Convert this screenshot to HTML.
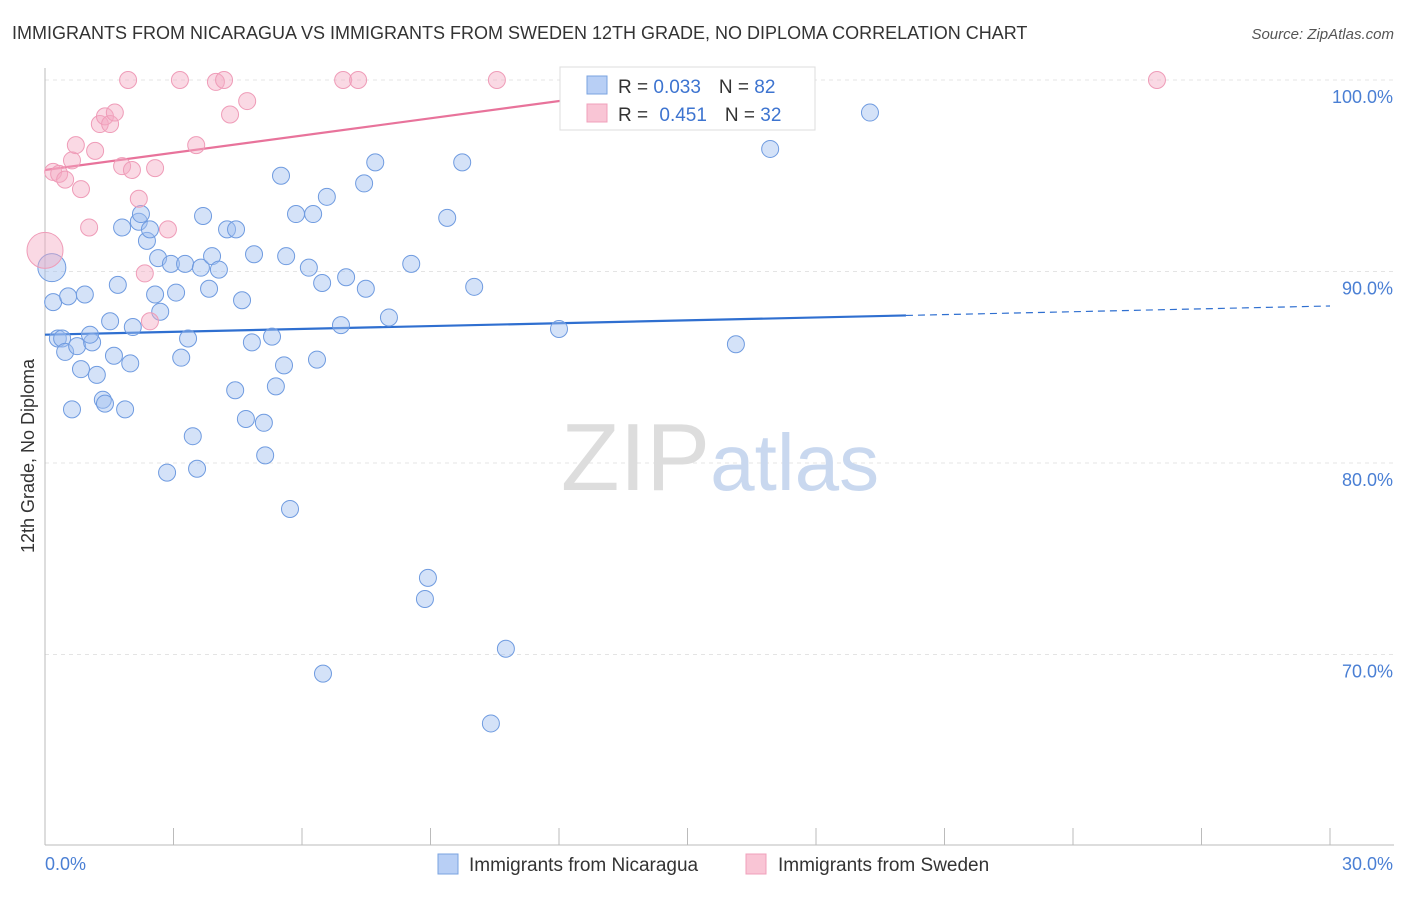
<!DOCTYPE html>
<html><head><meta charset="utf-8"><style>
body{margin:0;background:#fff;font-family:"Liberation Sans",sans-serif;}
svg text{font-family:"Liberation Sans",sans-serif;}
</style></head><body>
<svg id="chart" width="1406" height="892" xmlns="http://www.w3.org/2000/svg">
<text x="12" y="39" font-size="18" fill="#333">IMMIGRANTS FROM NICARAGUA VS IMMIGRANTS FROM SWEDEN 12TH GRADE, NO DIPLOMA CORRELATION CHART</text>
<text x="1394" y="39" font-size="15" fill="#555" text-anchor="end" font-style="italic">Source: ZipAtlas.com</text>
<g id="grid"></g>
<text x="720" y="490" font-size="96" text-anchor="middle" fill="#ddd" font-family="Liberation Serif">ZIP<tspan fill="#c9d8ef" font-family="Liberation Sans" font-size="80">atlas</tspan></text>
<g id="lines"></g>
<g id="points"></g>
<text transform="translate(34,456) rotate(-90)" font-size="18" fill="#333" text-anchor="middle">12th Grade, No Diploma</text>
<text x="45" y="870" font-size="18" fill="#4a7fd4">0.0%</text>
<text x="1393" y="870" font-size="18" fill="#4a7fd4" text-anchor="end">30.0%</text>
<g>
<rect x="560" y="67" width="255" height="63" fill="#fff" stroke="#ddd"/>
<rect x="587" y="76" width="20" height="18" fill="#b8cff5" stroke="#7aa3e0"/>
<rect x="587" y="104" width="20" height="18" fill="#f9c5d5" stroke="#f0a0bb"/>
<text x="618" y="93" font-size="19" fill="#333">R = <tspan fill="#3d74d0">0.033</tspan><tspan dx="18">N = </tspan><tspan fill="#3d74d0">82</tspan></text>
<text x="618" y="121" font-size="19" fill="#333">R = <tspan dx="6" fill="#3d74d0">0.451</tspan><tspan dx="18">N = </tspan><tspan fill="#3d74d0">32</tspan></text>
</g>
<g>
<rect x="438" y="854" width="20" height="20" fill="#b8cff5" stroke="#7aa3e0"/>
<text x="469" y="871" font-size="19" fill="#333">Immigrants from Nicaragua</text>
<rect x="746" y="854" width="20" height="20" fill="#f9c5d5" stroke="#f0a0bb"/>
<text x="778" y="871" font-size="19" fill="#333">Immigrants from Sweden</text>
</g>
</svg>
<script>
const yTicks=[100,90,80,70];
const yTickLabels=["100.0%","90.0%","80.0%","70.0%"];
const xTicks=[0,3,6,9,12,15,18,21,24,27,30];
const nicX=[0.16,0.19,0.30,0.40,0.54,0.93,0.47,0.75,0.63,0.84,1.10,1.05,1.21,1.35,1.40,1.52,1.61,1.70,1.80,1.87,1.99,2.05,2.19,2.24,2.38,2.45,2.57,2.64,2.69,2.85,2.94,3.06,3.18,3.27,3.34,3.45,3.55,3.64,3.69,3.83,3.90,4.06,4.25,4.46,4.44,4.60,4.69,4.83,4.88,5.11,5.14,5.30,5.39,5.51,5.58,5.63,5.72,5.86,6.16,6.26,6.35,6.47,6.58,6.91,7.03,7.45,7.49,7.71,8.03,8.55,8.94,8.87,9.39,9.74,10.02,10.41,10.76,12.00,16.13,16.93,19.26,6.49];
const nicY=[90.2,88.4,86.5,86.5,88.7,88.8,85.8,86.1,82.8,84.9,86.3,86.7,84.6,83.3,83.1,87.4,85.6,89.3,92.3,82.8,85.2,87.1,92.6,93.0,91.6,92.2,88.8,90.7,87.9,79.5,90.4,88.9,85.5,90.4,86.5,81.4,79.7,90.2,92.9,89.1,90.8,90.1,92.2,92.2,83.8,88.5,82.3,86.3,90.9,82.1,80.4,86.6,84.0,95.0,85.1,90.8,77.6,93.0,90.2,93.0,85.4,89.4,93.9,87.2,89.7,94.6,89.1,95.7,87.6,90.4,74.0,72.9,92.8,95.7,89.2,66.4,70.3,87.0,86.2,96.4,98.3,69.0];
const sweX=[0,0.19,0.33,0.47,0.63,0.72,0.84,1.03,1.17,1.28,1.40,1.52,1.63,1.80,1.94,2.03,2.19,2.33,2.45,2.57,2.87,3.15,3.53,3.99,4.18,4.32,4.72,6.96,7.31,10.55,25.96,12.77];
const sweY=[91.1,95.2,95.1,94.8,95.8,96.6,94.3,92.3,96.3,97.7,98.1,97.7,98.3,95.5,100,95.3,93.8,89.9,87.4,95.4,92.2,100,96.6,99.9,100,98.2,98.9,100,100,100,100,100];
const nicTrend=[86.7,0.05]; // intercept, slope per %
const sweTrend=[95.3,0.30];
const X=v=>45+v*1285/30, Y=v=>80+(100-v)*19.15;
const NS="http://www.w3.org/2000/svg";
function mk(t,a,p){const e=document.createElementNS(NS,t);for(const k in a)e.setAttribute(k,a[k]);document.getElementById(p).appendChild(e);return e;}
yTicks.forEach((t,i)=>{
 const g=mk('line',{x1:45,x2:1394,y1:Y(t),y2:Y(t),stroke:'#e4e4e4','stroke-dasharray':'4,4'},'grid');
 
 
 const l=mk('text',{x:1393,y:Y(t)+23,'font-size':18,fill:'#4a7fd4','text-anchor':'end'},'grid');
 
 
 l.textContent=yTickLabels[i];
});
const ax=mk('line',{x1:45,x2:1394,y1:845,y2:845,stroke:'#bbb'},'grid');


const ay=mk('line',{x1:45,x2:45,y1:68,y2:845,stroke:'#bbb'},'grid');


xTicks.forEach(t=>{
 const e=mk('line',{x1:X(t),x2:X(t),y1:828,y2:845,stroke:'#bbb'},'grid');
 
 
});
let e;
e=mk('line',{x1:X(0),y1:Y(nicTrend[0]),x2:X(20.1),y2:Y(nicTrend[0]+nicTrend[1]*20.1),stroke:'#2f6fd0','stroke-width':2.2},'lines');


e=mk('line',{x1:X(20.1),y1:Y(nicTrend[0]+nicTrend[1]*20.1),x2:X(30),y2:Y(nicTrend[0]+nicTrend[1]*30),stroke:'#2f6fd0','stroke-width':1.2,'stroke-dasharray':'7,5'},'lines');


const sEnd=(100-sweTrend[0])/sweTrend[1];
e=mk('line',{x1:X(0),y1:Y(sweTrend[0]),x2:X(sEnd),y2:Y(100),stroke:'#e8739b','stroke-width':2.2},'lines');


nicX.forEach((x,i)=>{
 const c=mk('circle',{cx:X(x),cy:Y(nicY[i]),r:i==0?14:8.5,fill:'rgba(160,190,240,0.45)',stroke:'#6f9be0','stroke-width':1},'points');
 
 
});
sweX.forEach((x,i)=>{
 const c=mk('circle',{cx:X(x),cy:Y(sweY[i]),r:i==0?18:8.5,fill:'rgba(245,170,195,0.45)',stroke:'#ef9cb8','stroke-width':1},'points');
 
 
});
</script>
</body></html>
